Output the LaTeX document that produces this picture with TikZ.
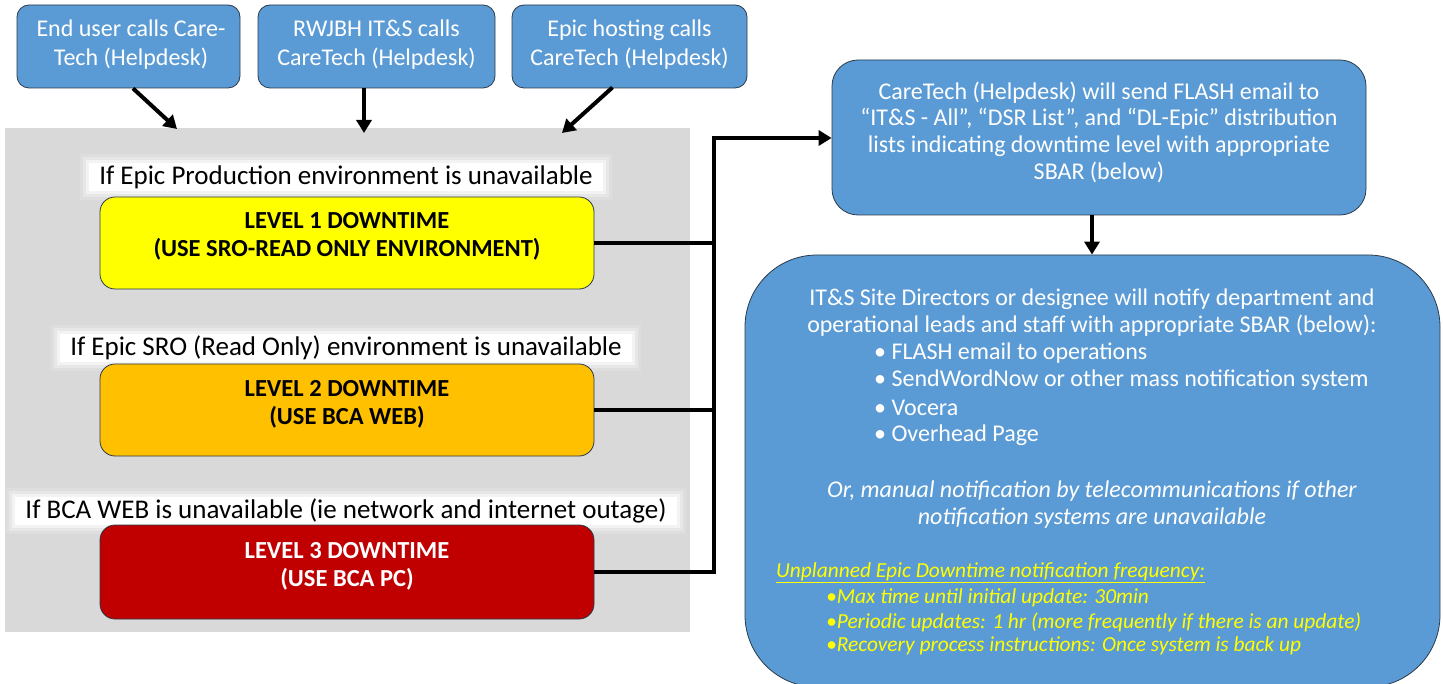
\documentclass[tikz,border=0pt]{standalone}
\usepackage{fontspec}
\setmainfont{Carlito}
\usetikzlibrary{arrows.meta}
\definecolor{boxblue}{HTML}{5B9BD5}
\definecolor{panelgray}{HTML}{D9D9D9}
\definecolor{lvlone}{HTML}{FFFF00}
\definecolor{lvltwo}{HTML}{FFC000}
\definecolor{lvlthree}{HTML}{C00000}
\definecolor{edgecol}{HTML}{2A3A4A}
\begin{document}
\begin{tikzpicture}[x=1pt,y=-1pt,
  every node/.style={font=\fontsize{24}{27}\selectfont},
  bluebox/.style={draw=edgecol, line width=0.8pt, fill=boxblue, text=white, rounded corners=12pt, align=center, inner sep=0pt},
  lvlbox/.style={draw=edgecol, line width=0.8pt, rounded corners=15pt, inner sep=0pt, minimum width=494pt},
  lvltext/.style={align=center, inner sep=0pt, font=\fontsize{24.5}{28}\selectfont\bfseries},
  wtext/.style={text=white, align=center, inner sep=0pt},
  glow/.style={fill=white, inner xsep=10pt, inner ysep=2pt, font=\fontsize{27}{30}\selectfont,
     preaction={draw=white, line width=18pt, opacity=0.15},
     preaction={draw=white, line width=12pt, opacity=0.3},
     preaction={draw=white, line width=6pt, opacity=0.5}},
  arr/.style={line width=4pt, -{Triangle[length=13pt,width=15pt]}},
  conn/.style={line width=4pt},
  itemtxt/.style={anchor=west, text=white, inner sep=0pt},
  subtxt/.style={anchor=west, text=lvlone, inner sep=0pt, font=\fontsize{21.4}{24}\selectfont\itshape}
]
\useasboundingbox (0,0) rectangle (1443,684);
% top boxes
\node[bluebox, minimum width=223pt, minimum height=83pt] (top1) at (128.5,46.5) {};
\node[bluebox, minimum width=237pt, minimum height=83pt] (top2) at (376.5,46.5) {};
\node[bluebox, minimum width=235pt, minimum height=83pt] (top3) at (629.5,46.5) {};
\node[wtext, font=\fontsize{24}{29}\selectfont] (t1) at (131,45) {End user calls Care-\\Tech (Helpdesk)};
\node[wtext, font=\fontsize{24}{29}\selectfont] (t2) at (376.5,45) {RWJBH IT\&S calls\\CareTech (Helpdesk)};
\node[wtext, font=\fontsize{24}{29}\selectfont] (t3) at (629.5,45) {Epic hosting calls\\CareTech (Helpdesk)};
% gray panel
\node[fill=panelgray, minimum width=685pt, minimum height=504pt, inner sep=0pt] (panel) at (347.5,380) {};
% labels
\node[glow] (lab1) at (346,177) {If Epic Production environment is unavailable};
\node[glow] (lab2) at (346,348) {If Epic SRO (Read Only) environment is unavailable};
\node[glow] (lab3) at (346,511) {If BCA WEB is unavailable (ie network and internet outage)};
% level boxes
\node[lvlbox, fill=lvlone, minimum height=92pt] (lvl1) at (347,243) {};
\node[lvlbox, fill=lvltwo, minimum height=92pt] (lvl2) at (347,410) {};
\node[lvlbox, fill=lvlthree, minimum height=94pt] (lvl3) at (347,572) {};
\node[lvltext] (l1t) at (347,236) {LEVEL 1 DOWNTIME\\(USE SRO-READ ONLY ENVIRONMENT)};
\node[lvltext] (l2t) at (347,404) {LEVEL 2 DOWNTIME\\(USE BCA WEB)};
\node[lvltext, text=white] (l3t) at (347,566) {LEVEL 3 DOWNTIME\\(USE BCA PC)};
% arrows into panel
\coordinate (in1) at (177,129);
\coordinate (in2) at (364,133);
\coordinate (in3) at (562,133);
\draw[arr] ([xshift=4.5pt]top1.south) -- (in1);
\draw[arr] ([xshift=-12.5pt]top2.south) -- (in2);
\draw[arr] ([xshift=-17pt,yshift=1pt]top3.south) -- (in3);
% right boxes
\node[bluebox, rounded corners=26pt, minimum width=534pt, minimum height=155pt] (care) at (1099,137.5) {};
\node[wtext, font=\fontsize{24}{26.7}\selectfont] (caret) at (1099,132)
  {CareTech (Helpdesk) will send FLASH email to\\“IT\&S - All”, “DSR List”, and “DL-Epic” distribution\\lists indicating downtime level with appropriate\\SBAR (below)};
\node[bluebox, rounded corners=72pt, minimum width=695pt, minimum height=432pt] (notify) at (1092.5,471) {};
% bus
\coordinate (bus) at (714,138);
\draw[conn] (lvl1.east) -- (lvl1.east -| bus);
\draw[conn] (lvl2.east) -- (lvl2.east -| bus);
\draw[arr] (lvl3.east) -| (bus) -- (bus -| care.west);
\draw[arr] ([xshift=-7pt]care.south) -- ([xshift=-7pt]care.south |- notify.north);
% notify texts
\node[wtext] (nhead) at (1092,312.5) {IT\&S Site Directors or designee will notify department and\\operational leads and staff with appropriate SBAR (below):};
\node[itemtxt] (b1) at (874,353) {• FLASH email to operations};
\node[itemtxt] (b2) at (874,380.5) {• SendWordNow or other mass notification system};
\node[itemtxt] (b3) at (874,408) {• Vocera};
\node[itemtxt] (b4) at (874,435.5) {• Overhead Page};
\node[wtext, font=\fontsize{24}{27}\selectfont\itshape] (nman) at (1092,504.5) {Or, manual notification by telecommunications if other\\notification systems are unavailable};
\node[subtxt] (fh) at (776,573) {\underline{Unplanned Epic Downtime notification frequency:}};
\node[subtxt] (f1) at (826,598) {•Max time until initial update: 30min};
\node[subtxt] (f2) at (826,622) {•Periodic updates: 1 hr (more frequently if there is an update)};
\node[subtxt] (f3) at (826,646) {•Recovery process instructions: Once system is back up};
\end{tikzpicture}
\end{document}
